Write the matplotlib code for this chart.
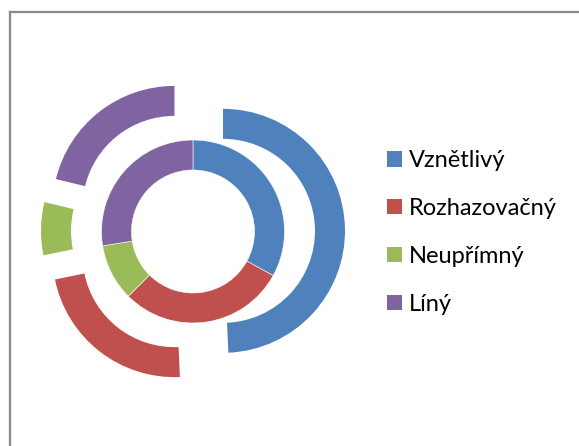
import matplotlib
matplotlib.use("Agg")
import matplotlib.pyplot as plt
from matplotlib.lines import Line2D
from matplotlib.patches import Patch

categories = ["Vznětlivý", "Rozhazovačný", "Neupřímný", "Líný"]
inner_values = [33.0, 29.5, 10.0, 27.5]
outer_values = [49.3, 22.5, 7.0, 21.2]
colors = ["#4F81BD", "#C0504D", "#9BBB59", "#8064A2"]

W, H = 579, 446
fig = plt.figure(figsize=(W / 100, H / 100), dpi=100)
ax = fig.add_axes([0, 0, 1, 1])

cx, cy = 193, H - 231.5
ax.pie(inner_values, colors=colors, radius=91.5, center=(cx, cy),
       startangle=90, counterclock=False, frame=True,
       wedgeprops=dict(width=30, edgecolor="white", linewidth=0.4))
ax.pie(outer_values, colors=colors, radius=122, center=(cx, cy),
       startangle=90, counterclock=False, frame=True,
       explode=[30] * len(outer_values),
       wedgeprops=dict(width=30, edgecolor="none"))
ax.set_xlim(0, W)
ax.set_ylim(0, H)
ax.set_aspect("equal")
ax.axis("off")

handles = [Patch(facecolor=c, edgecolor="none") for c in colors]
leg = ax.legend(handles, categories, loc="upper left",
                bbox_to_anchor=(387 / W, 1 - 150 / H), bbox_transform=fig.transFigure,
                frameon=False, prop={"family": "Lato", "size": 17},
                handlelength=0.64, handleheight=0.64, handletextpad=0.3,
                labelspacing=1.14, borderpad=0, borderaxespad=0)

# chart border
fig.add_artist(Line2D([10 / W, 10 / W], [0, 1 - 12 / H], transform=fig.transFigure,
                      color="#888888", linewidth=1.6))
fig.add_artist(Line2D([10 / W, 1], [1 - 12 / H, 1 - 12 / H], transform=fig.transFigure,
                      color="#888888", linewidth=1.6))

fig.savefig("out.png", dpi=100, facecolor="white")
